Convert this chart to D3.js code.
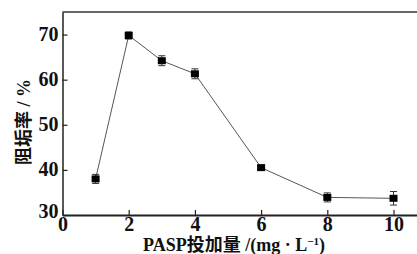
<!DOCTYPE html>
<html lang="zh">
<head>
<meta charset="UTF-8">
<title>PASP dosage vs scale inhibition</title>
<script src="https://cdn.jsdelivr.net/npm/d3@7/dist/d3.min.js"></script>
<style>
    body { margin: 0; background: #fff; }
    svg { display: block; }
    .tick text { font-family: "Liberation Serif", serif; font-weight: bold; font-size: 20px; fill: #111; }
</style>
</head>
<body>
<svg id="chart"></svg>
<script>
    // data
    const dose = [1, 2, 3, 4, 6, 8, 10];
    const rate = [38.0, 69.8, 64.2, 61.3, 40.5, 33.9, 33.7];
    const err = [1.0, 0.8, 1.1, 1.1, 0.5, 1.0, 1.5];
    const xTicks = [0, 2, 4, 6, 8, 10];
    const yTicks = [30, 40, 50, 60, 70];

    const width = 417, height = 254;
    const svg = d3.select("#chart").attr("width", width).attr("height", height);

    const mLeft = 62.5, mTop = 12, mBottom = 215, mRight = 420;

    const x = d3.scaleLinear().domain([0, 10.8]).range([mLeft, mRight]);
    const y = d3.scaleLinear().domain([30, 75]).range([mBottom, mTop]);

    // frame (top line)
    svg.append("line").attr("x1", mLeft).attr("x2", mRight + 5).attr("y1", mTop).attr("y2", mTop)
        .attr("stroke", "#333").attr("stroke-width", 1.5);

    // axes, ticks point inward
    const xAxis = svg.append("g").attr("transform", `translate(0,${mBottom})`)
        .call(d3.axisBottom(x).tickValues(xTicks).tickSizeInner(-5).tickSizeOuter(0).tickPadding(3));
    xAxis.select(".domain").attr("stroke", "#222").attr("stroke-width", 2);
    xAxis.selectAll(".tick line").attr("stroke", "#222").attr("stroke-width", 1.2);
    xAxis.selectAll(".tick text").attr("dy", "0.66em");

    const yAxis = svg.append("g").attr("transform", `translate(${mLeft},0)`)
        .call(d3.axisLeft(y).tickValues(yTicks).tickSizeInner(-5).tickSizeOuter(0).tickPadding(4));
    yAxis.select(".domain").attr("stroke", "#222").attr("stroke-width", 1.5);
    yAxis.selectAll(".tick line").attr("stroke", "#222").attr("stroke-width", 1.2);
    yAxis.selectAll(".tick text").attr("dy", "0.3em");
    // 30 sits a bit lower like the original
    yAxis.selectAll(".tick text").filter(d => d === 30).attr("dy", "0.1em");

    // connecting line
    const pts = dose.map((d, i) => [d, rate[i], err[i]]);
    svg.append("path")
        .datum(pts)
        .attr("fill", "none")
        .attr("stroke", "#555")
        .attr("stroke-width", 1)
        .attr("d", d3.line().x(d => x(d[0])).y(d => y(d[1])));

    // error bars
    const eb = svg.append("g").attr("stroke", "#333").attr("stroke-width", 1);
    pts.forEach(d => {
        const cx = x(d[0]), y0 = y(d[1] - d[2]), y1 = y(d[1] + d[2]);
        eb.append("line").attr("x1", cx).attr("x2", cx).attr("y1", y0).attr("y2", y1);
        eb.append("line").attr("x1", cx - 3.5).attr("x2", cx + 3.5).attr("y1", y0).attr("y2", y0);
        eb.append("line").attr("x1", cx - 3.5).attr("x2", cx + 3.5).attr("y1", y1).attr("y2", y1);
    });

    // square markers
    svg.append("g").selectAll("rect")
        .data(pts)
        .enter()
        .append("rect")
        .attr("x", d => x(d[0]) - 4)
        .attr("y", d => y(d[1]) - 3.5)
        .attr("width", 8)
        .attr("height", 7)
        .attr("fill", "#000");

    // axis titles
    svg.append("text")
        .attr("x", 234).attr("y", 251)
        .attr("text-anchor", "middle")
        .attr("font-family", "'Liberation Serif', 'Noto Sans CJK SC', serif")
        .attr("font-weight", "bold")
        .attr("font-size", 18)
        .attr("fill", "#111")
        .html('PASP投加量 /(mg · L<tspan baseline-shift="super" font-size="11">−1</tspan>)');

    svg.append("text")
        .attr("transform", "translate(30,122) rotate(-90)")
        .attr("text-anchor", "middle")
        .attr("font-family", "'Liberation Serif', 'Noto Sans CJK SC', serif")
        .attr("font-weight", "bold")
        .attr("font-size", 18)
        .attr("fill", "#111")
        .text("阻垢率 / %");
</script>
</body>
</html>
